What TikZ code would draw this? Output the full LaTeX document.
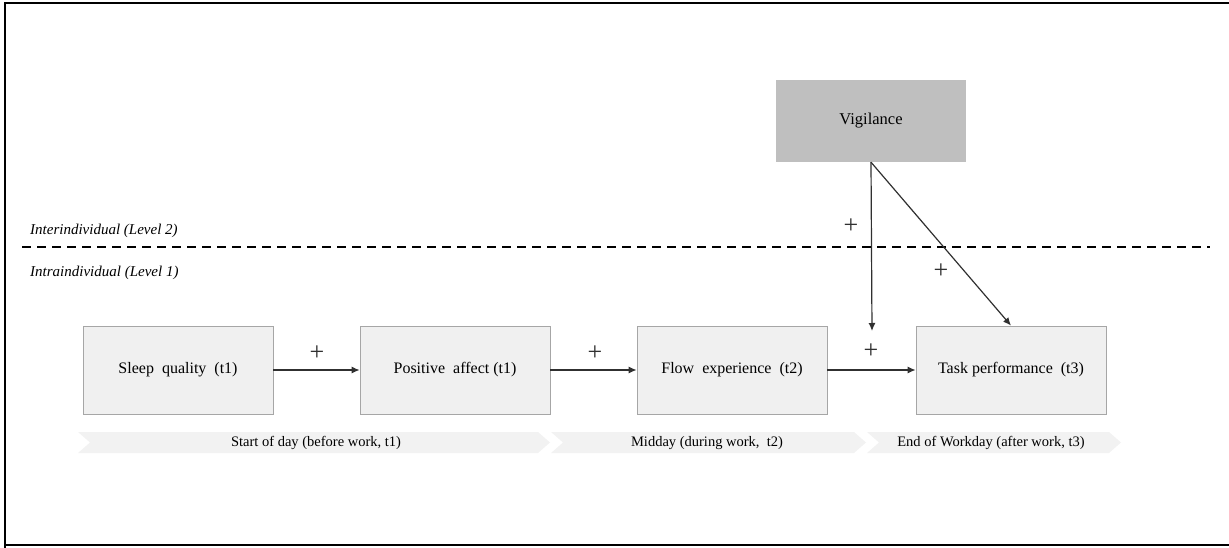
\documentclass[tikz,border=0pt]{standalone}
\usepackage{fontspec}
\setmainfont{Liberation Serif}
\usetikzlibrary{arrows.meta}
\definecolor{boxfill}{HTML}{F0F0F0}
\definecolor{boxdraw}{HTML}{A6A6A6}
\definecolor{vigfill}{HTML}{BFBFBF}
\definecolor{bandfill}{HTML}{F2F2F2}
\definecolor{linec}{HTML}{303030}
\begin{document}
\begin{tikzpicture}[x=1pt,y=-1pt,
  varbox/.style={draw=boxdraw,line width=0.8pt,fill=boxfill,minimum width=190pt,minimum height=88pt,inner sep=0pt,font=\fontsize{16}{18}\selectfont},
  vigbox/.style={fill=vigfill,minimum width=190pt,minimum height=82pt,inner sep=0pt,font=\fontsize{16.5}{18}\selectfont},
  arr/.style={draw=linec,line width=1.2pt,-{Latex[length=8pt,width=7pt]}},
  sign/.style={font=\fontsize{26}{26}\selectfont,inner sep=0pt,text=linec},
  lvl/.style={font=\itshape\fontsize{15}{17}\selectfont,anchor=west,inner sep=0pt},
  bandtxt/.style={font=\fontsize{14.5}{16}\selectfont,inner sep=0pt},
  band/.style={fill=bandfill,draw=none}
]
\useasboundingbox (0,0) rectangle (1229,548);
% frame
\draw[line width=2.5pt,black] (5,548) -- (5,3) -- (1229,3);
\draw[line width=2.5pt,black] (5,545) -- (1229,545);

% level labels and divider
\node[lvl] (inter) at (30,231) {Interindividual (Level 2)};
\node[lvl] (intra) at (30,273) {Intraindividual (Level 1)};
\coordinate (dl) at (22,247);
\coordinate (dr) at (1210,247);
\draw[line width=1.6pt,dash pattern=on 9pt off 6pt] (dl) -- (dr);

% boxes
\node[vigbox] (vig) at (871,121) {Vigilance};
\node[varbox] (sleep) at (178,370) {Sleep\ \ quality\ \ (t1)};
\node[varbox] (pos) at (455,370) {Positive\ \ affect\ (t1)};
\node[varbox] (flow) at (732,370) {Flow\ \ experience\ \ (t2)};
\node[varbox] (task) at (1011,370) {Task\ performance\ \ (t3)};

% connectors
\draw[arr] (sleep) -- (pos);
\draw[arr] (pos) -- (flow);
\draw[arr] (flow) -- (task);
\coordinate (vs) at (vig.south);
\coordinate (mod) at (872,331);
\draw[arr] (vs) -- (mod);
\draw[arr] (vs) -- (task.north);

% signs
\node[sign] (p1) at (317,353) {+};
\node[sign] (p2) at (595,353) {+};
\node[sign] (p3) at (871,351) {+};
\node[sign] (p4) at (851,226) {+};
\node[sign] (p5) at (941,271) {+};

% time band
\fill[band] (78,432) -- (538,432) -- (550,442.5) -- (538,453) -- (78,453) -- (90,442.5) -- cycle;
\fill[band] (551,432) -- (854,432) -- (866,442.5) -- (854,453) -- (551,453) -- (563,442.5) -- cycle;
\fill[band] (867,432) -- (1109,432) -- (1121,442.5) -- (1109,453) -- (867,453) -- (879,442.5) -- cycle;
\node[bandtxt] (b1) at (316,443) {Start of day (before work, t1)};
\node[bandtxt] (b2) at (707,443) {Midday (during work,\ \ t2)};
\node[bandtxt] (b3) at (991,443) {End of Workday (after work, t3)};
\end{tikzpicture}
\end{document}
